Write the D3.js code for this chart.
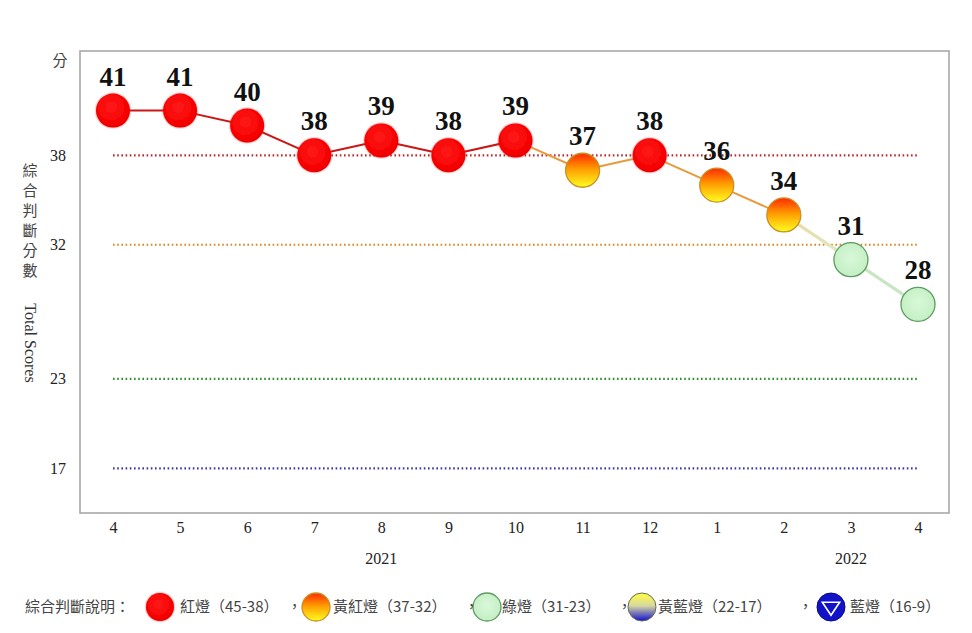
<!DOCTYPE html>
<html><head><meta charset="utf-8">
<script src="https://cdn.jsdelivr.net/npm/d3@7"></script>
<style>body{margin:0;background:#fff}svg{display:block}</style>
</head><body>
<script>
const months = ["4","5","6","7","8","9","10","11","12","1","2","3","4"];
const monthKeys = ["2021-04","2021-05","2021-06","2021-07","2021-08","2021-09","2021-10","2021-11","2021-12","2022-01","2022-02","2022-03","2022-04"];
const scores = [41,41,40,38,39,38,39,37,38,36,34,31,28];
const years = [{label:"2021", at:"2021-08"},{label:"2022", at:"2022-03"}];
const thresholds = [38,32,23,17];
const thresholdColors = ["#c0282a","#d9861a","#2f8f2f","#3a3aa8"];
const yTicks = [38,32,23,17];
const legendItems = [
  {kind:"red", text:"紅燈（45-38）"},
  {kind:"orange", text:"黃紅燈（37-32）"},
  {kind:"green", text:"綠燈（31-23）"},
  {kind:"yb", text:"黃藍燈（22-17）"},
  {kind:"blue", text:"藍燈（16-9）"}
];

const W=972,H=633;
const svg=d3.select("body").append("svg").attr("width",W).attr("height",H);
const defs=svg.append("defs");
const rg=defs.append("radialGradient").attr("id","gRed").attr("cx","45%").attr("cy","40%").attr("r","60%");
rg.append("stop").attr("offset","0%").attr("stop-color","#ff1a1a");
rg.append("stop").attr("offset","85%").attr("stop-color","#f50000");
rg.append("stop").attr("offset","100%").attr("stop-color","#e60000");
const og=defs.append("linearGradient").attr("id","gOrange").attr("x1",0).attr("y1",0).attr("x2",0).attr("y2",1);
og.append("stop").attr("offset","0%").attr("stop-color","#ff2a00");
og.append("stop").attr("offset","45%").attr("stop-color","#ff9a00");
og.append("stop").attr("offset","100%").attr("stop-color","#ffff20");
const gg=defs.append("radialGradient").attr("id","gGreen").attr("cx","50%").attr("cy","45%").attr("r","60%");
gg.append("stop").attr("offset","0%").attr("stop-color","#d8f8d8");
gg.append("stop").attr("offset","100%").attr("stop-color","#c2eec2");
const yb=defs.append("linearGradient").attr("id","gYB").attr("x1",0).attr("y1",0).attr("x2",0).attr("y2",1);
yb.append("stop").attr("offset","0%").attr("stop-color","#ffff40");
yb.append("stop").attr("offset","45%").attr("stop-color","#d8d8a0");
yb.append("stop").attr("offset","100%").attr("stop-color","#1010d0");
const glow=defs.append("filter").attr("id","glow").attr("x","-50%").attr("y","-50%").attr("width","200%").attr("height","200%");
glow.append("feGaussianBlur").attr("in","SourceGraphic").attr("stdDeviation",1.3).attr("result","b");
glow.append("feComponentTransfer").attr("in","b").attr("result","b2").append("feFuncA").attr("type","linear").attr("slope",0.6);
const fm=glow.append("feMerge");fm.append("feMergeNode").attr("in","b2");fm.append("feMergeNode").attr("in","SourceGraphic");

const x=d3.scalePoint().domain(monthKeys).range([113,918]);
const y=d3.scaleLinear().domain([14,45]).range([513,51]);

// frame
svg.append("rect").attr("x",80).attr("y",51).attr("width",869).attr("height",462)
  .attr("fill","#fff").attr("stroke","#a8a8a8").attr("stroke-width",1.6);

// threshold dotted lines
svg.selectAll("line.th").data(thresholds).join("line")
  .attr("x1",x(monthKeys[0])).attr("x2",x(monthKeys[monthKeys.length-1]))
  .attr("y1",d=>y(d)).attr("y2",d=>y(d))
  .attr("stroke",(d,i)=>thresholdColors[i]).attr("stroke-width",2.2)
  .attr("stroke-dasharray","1.6 2.6");

// y axis ticks
const yAxis=d3.axisLeft(y).tickValues(yTicks).tickSize(0).tickPadding(0);
const ya=svg.append("g").attr("transform","translate(66,0)").call(yAxis);
ya.select(".domain").remove();
ya.selectAll("text").attr("font-family","'Liberation Serif',serif").attr("font-size",16).attr("fill","#222");
svg.append("text").attr("x",60).attr("y",66).attr("text-anchor","middle")
  .attr("font-family","'Noto Sans CJK TC',sans-serif").attr("font-size",15).attr("fill","#444").text("分");

// y title (vertical)
svg.append("text").attr("x",30).attr("y",163)
  .style("writing-mode","vertical-rl").style("text-orientation","upright")
  .attr("letter-spacing",5)
  .attr("font-family","'Noto Sans CJK TC',sans-serif").attr("font-size",15).attr("fill","#444").text("綜合判斷分數");
svg.append("text").attr("transform","translate(25,343) rotate(90)").attr("text-anchor","middle")
  .attr("font-family","'Liberation Serif',serif").attr("font-size",16).attr("fill","#333").text("Total Scores");

// x axis
const xAxis=d3.axisBottom(x).tickSize(0).tickPadding(0).tickFormat((d,i)=>months[i]);
const xa=svg.append("g").attr("transform","translate(0,522)").call(xAxis);
xa.select(".domain").remove();
xa.selectAll("text").attr("font-family","'Liberation Serif',serif").attr("font-size",16).attr("fill","#222");
svg.selectAll("text.yr").data(years).join("text").attr("class","yr")
  .attr("x",d=>x(d.at)).attr("y",564).attr("text-anchor","middle")
  .attr("font-family","'Liberation Serif',serif").attr("font-size",16).attr("fill","#222").text(d=>d.label);

function kind(v){return v>=38?"red":v>=32?"orange":v>=23?"green":v>=17?"yb":"blue";}
function segColor(a,b){
  const ka=kind(a),kb=kind(b);
  if(ka==="red"&&kb==="red")return ["#c81818","#c81818"];
  if(ka==="green"&&kb==="green")return ["#c8e6c2","#c8e6c2"];
  if((ka==="orange"&&kb==="green"))return ["#eed9a0","#d6ecc8"];
  return ["#e89a3a","#e89a3a"];
}
const segs=d3.range(scores.length-1).map(i=>({i,a:scores[i],b:scores[i+1]}));
segs.forEach(s=>{
  const c=segColor(s.a,s.b);
  const lg=defs.append("linearGradient").attr("id","seg"+s.i).attr("gradientUnits","userSpaceOnUse")
    .attr("x1",x(monthKeys[s.i])).attr("y1",y(s.a)).attr("x2",x(monthKeys[s.i+1])).attr("y2",y(s.b));
  lg.append("stop").attr("offset","0%").attr("stop-color",c[0]);
  lg.append("stop").attr("offset","100%").attr("stop-color",c[1]);
});
svg.selectAll("line.seg").data(segs).join("line")
  .attr("x1",d=>x(monthKeys[d.i])).attr("y1",d=>y(d.a))
  .attr("x2",d=>x(monthKeys[d.i+1])).attr("y2",d=>y(d.b))
  .attr("stroke",d=>`url(#seg${d.i})`).attr("stroke-width",d=>kind(d.b)==="green"?3.2:2);

function drawMarker(g,k,r){
  if(k==="red"){
    g.append("circle").attr("r",r).attr("fill","url(#gRed)").attr("filter","url(#glow)");
  }else if(k==="orange"){
    g.append("circle").attr("r",r).attr("fill","url(#gOrange)").attr("stroke","#c8902a").attr("stroke-width",1.3);
  }else if(k==="green"){
    g.append("circle").attr("r",r).attr("fill","url(#gGreen)").attr("stroke","#5c9c62").attr("stroke-width",1.3);
  }else if(k==="yb"){
    g.append("circle").attr("r",r).attr("fill","url(#gYB)").attr("stroke","#6a6a50").attr("stroke-width",1);
  }else{
    g.append("circle").attr("r",r).attr("fill","#1212c8").attr("stroke","#0a0a80").attr("stroke-width",1);
    const t=r*0.62;
    g.append("path").attr("d",`M${-t},${-t*0.55}L${t},${-t*0.55}L0,${t*0.95}Z`).attr("fill","none").attr("stroke","#fff").attr("stroke-width",1.6);
  }
}
const pts=svg.selectAll("g.pt").data(scores).join("g").attr("class","pt")
  .attr("transform",(d,i)=>`translate(${x(monthKeys[i])},${y(d)})`);
pts.each(function(d){drawMarker(d3.select(this),kind(d),17);});
pts.append("text").attr("y",-25).attr("text-anchor","middle")
  .attr("font-family","'Liberation Serif',serif").attr("font-weight","bold").attr("font-size",27)
  .attr("fill","#111").text(d=>d);

// legend
const LF="'Noto Sans CJK TC',sans-serif";
svg.append("text").attr("x",25).attr("y",612).attr("font-family",LF).attr("font-size",15).attr("fill","#444").text("綜合判斷說明：");
const legX=[160,316,487,642,831];
const legTX=[180,333,502,658,850];
const commaX=[287,464,617,798];
legendItems.forEach((it,i)=>{
  const g=svg.append("g").attr("transform",`translate(${legX[i]},607)`);
  drawMarker(g,it.kind,14);
  svg.append("text").attr("x",legTX[i]).attr("y",612).attr("font-family",LF).attr("font-size",15).attr("fill","#444").text(it.text);
});
svg.selectAll("text.cm").data(commaX).join("text").attr("class","cm").attr("x",d=>d).attr("y",612)
  .attr("font-family",LF).attr("font-size",15).attr("fill","#444").text("，");
</script>
</body></html>
